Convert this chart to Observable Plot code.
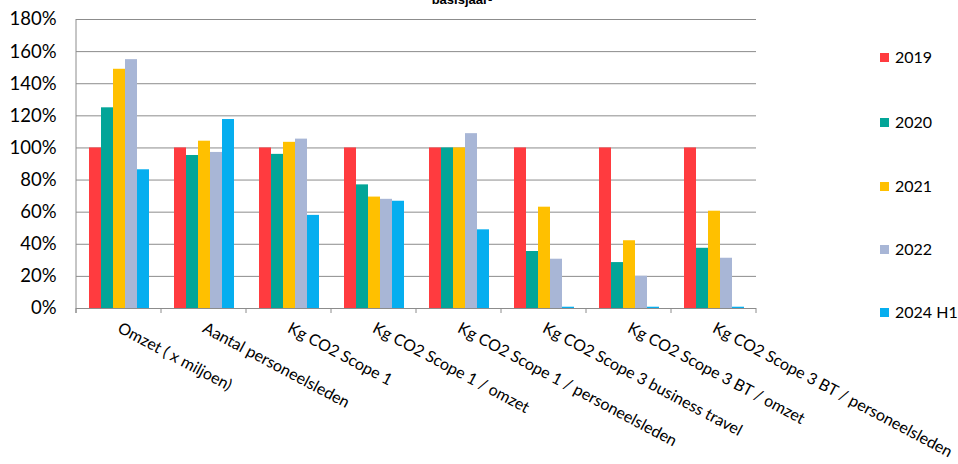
<!DOCTYPE html>
<html><head><meta charset="utf-8">
<script src="https://cdn.jsdelivr.net/npm/d3@7"></script>
<script src="https://cdn.jsdelivr.net/npm/@observablehq/plot@0.6"></script>
<style>
html,body{margin:0;padding:0;background:#fff;overflow:hidden}
#wrap{position:relative;width:958px;height:464px;font-family:Lato,sans-serif;color:#000}
#title{position:absolute;left:0;width:924px;text-align:center;top:-8px;font:bold 13px "Liberation Sans",Arial,sans-serif;z-index:2}
#legend{position:absolute;left:880px;top:0;width:78px;height:464px}
.item{position:absolute;left:0;display:flex;align-items:center;white-space:nowrap;font-size:16px;line-height:20px}
.sw{width:9px;height:9px;margin-right:6px;flex:none}
</style></head><body>
<div id="wrap"><div id="title">basisjaar-</div><div id="chart"></div><div id="legend"></div></div>
<script>
const categories = ["Omzet ( x miljoen)", "Aantal personeelsleden", "Kg CO2 Scope 1", "Kg CO2 Scope 1 / omzet",
  "Kg CO2 Scope 1 / personeelsleden", "Kg CO2 Scope 3 business travel", "Kg CO2 Scope 3 BT / omzet", "Kg CO2 Scope 3 BT / personeelsleden"];
const series = ["2019", "2020", "2021", "2022", "2024 H1"];
const colors = ["#FF3B3F", "#03A598", "#FFC000", "#A8B6D6", "#06AEEF"];
const values2019 = [100, 100, 100, 100, 100, 100, 100, 100];
const values2020 = [125, 95.3, 96, 77, 100, 35.5, 28.6, 37.5];
const values2021 = [149, 104.2, 103.5, 69.4, 100, 63.1, 42.2, 60.6];
const values2022 = [155, 97.2, 105.5, 68, 108.9, 30.7, 20.1, 31.3];
const values2024H1 = [86.4, 117.7, 58, 66.8, 49, 0.8, 0.8, 0.8];
const yTicks = [0, 20, 40, 60, 80, 100, 120, 140, 160, 180];
const legendRows = [57, 122, 186, 249, 312];

const seriesValues = [values2019, values2020, values2021, values2022, values2024H1];
const data = categories.flatMap((c, i) => series.map((s, j) => ({category: c, series: s, value: seriesValues[j][i]})));

const plot = Plot.plot({
  width: 958, height: 464,
  marginLeft: 76, marginRight: 202, marginTop: 19, marginBottom: 156,
  style: {fontFamily: "Lato, sans-serif", fontSize: "18px", color: "#000", background: "transparent", overflow: "visible"},
  fx: {domain: categories, padding: 0, label: null, axis: null},
  x: {domain: series, paddingInner: 0, paddingOuter: 0.77, axis: null},
  y: {domain: [0, 180], label: null, axis: null},
  color: {domain: series, range: colors},
  marks: [
    Plot.gridY(yTicks, {stroke: "#8c8c8c", strokeOpacity: 1, strokeWidth: 1}),
    Plot.barY(data, {fx: "category", x: "series", y: "value", fill: "series"}),
    Plot.ruleY([0], {stroke: "#8c8c8c", strokeWidth: 1}),
    Plot.axisY(yTicks, {tickSize: 0, tickPadding: 20, tickFormat: d => d + "%", fontSize: 18.5, label: null}),
    Plot.axisFx({anchor: "bottom", tickSize: 0, tickRotate: 28, textAnchor: "start", fontSize: 16, dx: 0, dy: 6, label: null})
  ]
});
document.getElementById("chart").appendChild(plot);

// axis decorations: left axis line and category boundary ticks, from Plot's own scales
const fx = plot.scale("fx"), y = plot.scale("y");
const svg = d3.select(plot.tagName.toLowerCase() === "svg" ? plot : plot.querySelector("svg"));
const y0 = y.apply(0), yTop = y.apply(180);
const bw = fx.bandwidth;
const bounds = categories.map(c => fx.apply(c)).concat([fx.apply(categories[categories.length - 1]) + bw]);
const g = svg.append("g").attr("stroke", "#8c8c8c").attr("stroke-width", 1);
g.append("line").attr("x1", bounds[0]).attr("x2", bounds[0]).attr("y1", yTop).attr("y2", y0 + 5);
bounds.forEach(b => g.append("line").attr("x1", b).attr("x2", b).attr("y1", y0).attr("y2", y0 + 5));

// legend
const leg = d3.select("#legend");
series.forEach((s, i) => {
  const it = leg.append("div").attr("class", "item").style("top", (legendRows[i] - 10) + "px");
  it.append("div").attr("class", "sw").style("background", colors[i]);
  it.append("span").text(s);
});
</script>
</body></html>
